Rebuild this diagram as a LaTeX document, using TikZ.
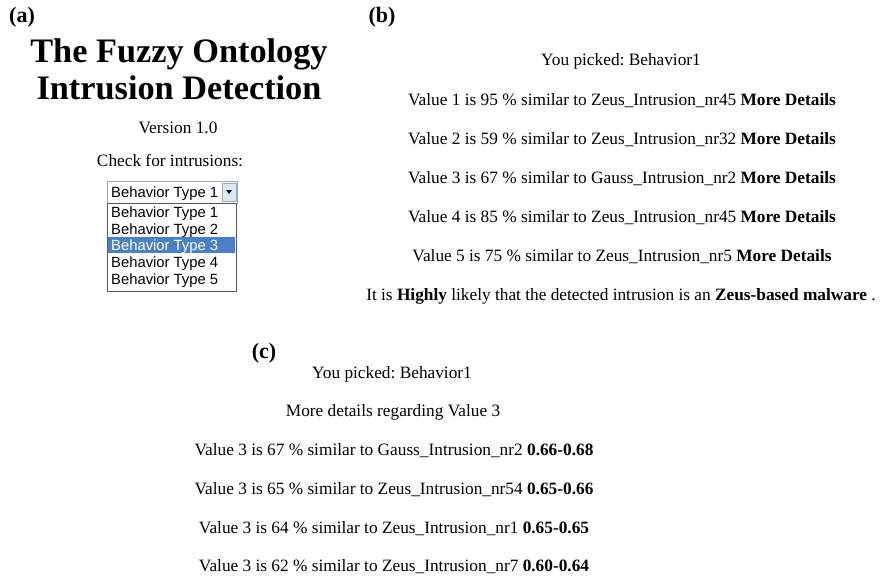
\documentclass[tikz,border=0pt]{standalone}
\usepackage{fontspec}
\setmainfont{Liberation Serif}
\newfontfamily\uifont{Liberation Sans}
\usepackage{xcolor}
\frenchspacing

\definecolor{pickblue}{RGB}{74,127,201}
\definecolor{boxedge}{RGB}{150,172,200}
\definecolor{btnfill}{RGB}{222,233,246}

\tikzset{
  line/.style={anchor=base, inner sep=0pt, font=\fontsize{17.3}{20}\selectfont},
  panel/.style={anchor=base, inner sep=0pt, font=\fontsize{22}{26}\selectfont\bfseries},
  title/.style={anchor=base, inner sep=0pt, font=\fontsize{34.3}{40}\selectfont\bfseries},
  item/.style={anchor=base west, inner sep=0pt, font=\uifont\fontsize{14.8}{17}\selectfont},
}

\begin{document}
\begin{tikzpicture}[x=1pt, y=-1pt]
\useasboundingbox[fill=white] (0,0) rectangle (880,578);

% (a) start page with the drop-down list
\node[panel] (a) at (22,23) {(a)};
\node[title] (title1) at (179,63) {The Fuzzy Ontology};
\node[title] (title2) at (179,99) {Intrusion Detection};
\node[line] (version) at (178,133) {Version 1.0};
\node[line] (check) at (170,166) {Check for intrusions:};

\draw[boxedge] (107,181) rectangle (237,203);
\draw[black!65, line width=0.8pt] (107,203) rectangle (236,291);
\fill[pickblue] (108,237) rectangle (235,253);
\draw[boxedge, fill=btnfill] (222,183) rectangle (236,201);
\fill (226,190) -- (232,190) -- (229,194) -- cycle;

\node[item] (select) at (111,197) {Behavior Type 1};
\foreach \i/\y/\c in {1/217/black, 2/234/black, 3/250/white, 4/267/black, 5/284/black}
  \node[item, text=\c] (opt\i) at (111,\y) {Behavior Type \i};

% (b) similarity of every value
\node[panel] (b) at (382,23) {(b)};
\node[line] (bpick) at (621,66) {You picked: Behavior1};
\foreach \i/\p/\n/\y in {1/95/Zeus\_Intrusion\_nr45/105, 2/59/Zeus\_Intrusion\_nr32/144,
    3/67/Gauss\_Intrusion\_nr2/183, 4/85/Zeus\_Intrusion\_nr45/222, 5/75/Zeus\_Intrusion\_nr5/261}
  \node[line] (val\i) at (622,\y) {Value \i{} is \p{} \% similar to \n{} \textbf{More Details}};
\node[line] (verdict) at (621,300)
  {It is \textbf{Highly} likely that the detected intrusion is an \textbf{Zeus-based malware} .};

% (c) details for one value
\node[panel] (c) at (264,358) {(c)};
\node[line] (cpick) at (392,378) {You picked: Behavior1};
\node[line] (more) at (393,416) {More details regarding Value 3};
\foreach \k/\p/\n/\r/\y in {1/67/Gauss\_Intrusion\_nr2/0.66-0.68/455, 2/65/Zeus\_Intrusion\_nr54/0.65-0.66/494,
    3/64/Zeus\_Intrusion\_nr1/0.65-0.65/533, 4/62/Zeus\_Intrusion\_nr7/0.60-0.64/571}
  \node[line] (det\k) at (394,\y) {Value 3 is \p{} \% similar to \n{} \textbf{\r}};
\end{tikzpicture}
\end{document}
